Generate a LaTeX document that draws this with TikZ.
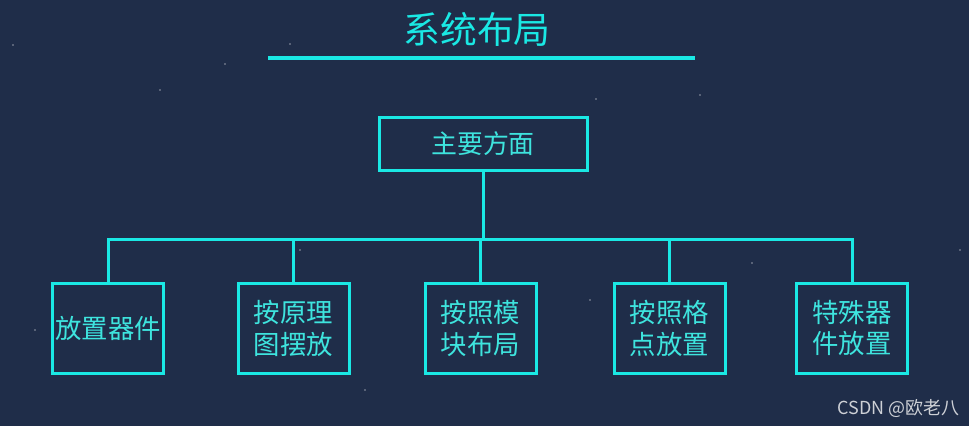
\documentclass[tikz,border=0pt]{standalone}
\usepackage{fontspec}
\setmainfont{Noto Sans CJK SC}
\usetikzlibrary{positioning}

\definecolor{bgnavy}{RGB}{31,45,73}
\definecolor{linecyan}{RGB}{26,232,228}
\definecolor{textcyan}{RGB}{62,228,222}
\definecolor{markgray}{RGB}{205,208,214}

\begin{document}
\begin{tikzpicture}[x=1bp, y=-1bp, line width=3bp,
  box/.style={draw=linecyan, text=textcyan, inner sep=0pt, align=center,
    minimum width=111bp, minimum height=90bp, font=\fontsize{26.5}{32}\selectfont},
  link/.style={draw=linecyan, line width=3bp}]
  % Background
  \fill[bgnavy] (0,0) rectangle (969,426);
  \useasboundingbox (0,0) rectangle (969,426);
  \foreach \px/\py in {13/45, 290/44, 225/64, 596/99, 160/90, 365/390, 590/300, 752/263, 35/330, 960/250, 700/95, 300/250}
    \fill[white, opacity=0.35] (\px,\py) circle (1.2bp);

  % Title
  \node[text=linecyan, font=\fontsize{37}{40}\selectfont] (title) at (477,29) {系统布局};
  \coordinate (ruleL) at (268,58);
  \coordinate (ruleR) at (695,58);
  \draw[link, line width=3.5bp] (ruleL) -- (ruleR);

  % Root
  \node[box, minimum width=208bp, minimum height=53bp, font=\fontsize{26}{30}\selectfont] (main) at (483,143.5) {主要方面};

  % Leaves
  \node[box] (p1) at (108,328) {放置器件};
  \node[box] (p2) at (293.5,328) {按原理\\图摆放};
  \node[box] (p3) at (480.5,328) {按照模\\块布局};
  \node[box] (p4) at (669.5,328) {按照格\\点放置};
  \node[box] (p5) at (852,328) {特殊器\\件放置};

  % Tree lines
  \coordinate (bus) at (483,239.5);
  \draw[link] (main) -- (bus);
  \draw[link] (p1.north) -- (p1.north |- bus) -- (p5.north |- bus) -- (p5.north);
  \foreach \n in {p2,p3,p4}
    \draw[link] (\n.north) -- (\n.north |- bus);

  % Watermark
  \node[text=markgray, font=\fontsize{18}{20}\selectfont, anchor=east] (mark) at (964,408) {CSDN @欧老八};
\end{tikzpicture}
\end{document}
